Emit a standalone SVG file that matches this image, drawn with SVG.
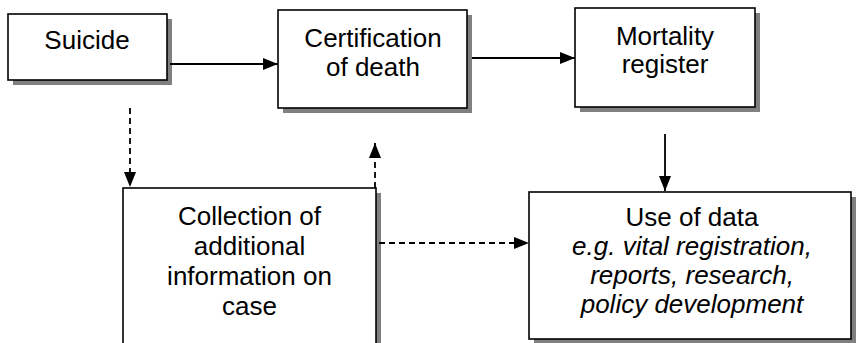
<svg xmlns="http://www.w3.org/2000/svg" width="856" height="343" viewBox="0 0 856 343">
<style>
.box{fill:#fff;stroke:#000;stroke-width:1.6}
.shadow{fill:#808080}
.t{font-family:"Liberation Sans",Arial,sans-serif;font-size:26px;fill:#000;text-anchor:middle}
.it{font-style:italic}
.ln{stroke:#000;stroke-width:1.8;fill:none}
.dash{stroke-dasharray:6 4}
</style>
<defs>
<marker id="ah" markerUnits="userSpaceOnUse" markerWidth="16" markerHeight="14" refX="15" refY="6" orient="auto">
<path d="M0,0 L15,6 L0,12 Z" fill="#000"/>
</marker>
</defs>
<rect width="856" height="343" fill="#fff"/>
<g id="suicide">
<rect class="shadow" x="13" y="19" width="159" height="66"/>
<rect class="box" x="8" y="14" width="159" height="66"/>
<text class="t" x="87" y="49">Suicide</text>
</g>
<g id="certification">
<rect class="shadow" x="283" y="15" width="189" height="98"/>
<rect class="box" x="278" y="10" width="189" height="98"/>
<text class="t" x="373" y="47">Certification</text>
<text class="t" x="373" y="76">of death</text>
</g>
<g id="mortality">
<rect class="shadow" x="580" y="13" width="180" height="99"/>
<rect class="box" x="575" y="8" width="180" height="99"/>
<text class="t" x="665" y="45">Mortality</text>
<text class="t" x="665" y="73">register</text>
</g>
<g id="collection">
<rect class="shadow" x="128" y="193" width="253" height="170"/>
<rect class="box" x="123" y="188" width="253" height="170"/>
<text class="t" x="249.5" y="225">Collection of</text>
<text class="t" x="249.5" y="255">additional</text>
<text class="t" x="249.5" y="285">information on</text>
<text class="t" x="249.5" y="315">case</text>
</g>
<g id="use">
<rect class="shadow" x="534" y="197" width="322" height="147"/>
<rect class="box" x="529" y="192" width="322" height="147"/>
<text class="t" x="692" y="226">Use of data</text>
<text class="t it" x="692" y="255">e.g. vital registration,</text>
<text class="t it" x="692" y="284">reports, research,</text>
<text class="t it" x="692" y="313">policy development</text>
</g>
<g id="connectors">
<line class="ln" x1="170" y1="64" x2="278" y2="64" marker-end="url(#ah)"/>
<line class="ln" x1="472" y1="58" x2="575" y2="58" marker-end="url(#ah)"/>
<line class="ln" x1="665" y1="134" x2="665" y2="191" marker-end="url(#ah)"/>
<line class="ln dash" x1="130" y1="108" x2="130" y2="187" marker-end="url(#ah)"/>
<line class="ln dash" x1="375" y1="188" x2="375" y2="143" marker-end="url(#ah)"/>
<line class="ln dash" x1="379" y1="243" x2="529" y2="243" marker-end="url(#ah)"/>
</g>
</svg>
